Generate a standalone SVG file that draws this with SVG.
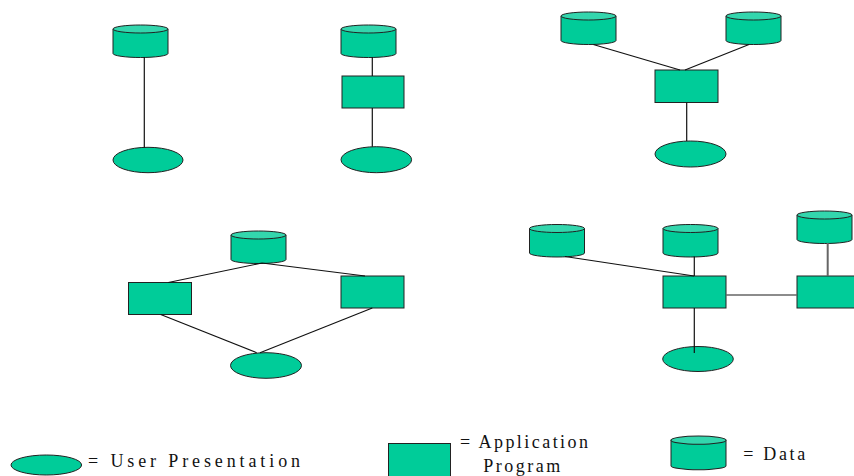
<svg xmlns="http://www.w3.org/2000/svg" xmlns:xlink="http://www.w3.org/1999/xlink" width="854" height="476" viewBox="0 0 854 476">
<style>
.f{fill:#00CC99;stroke:#222;stroke-width:1}
.top{fill:#33D6AD;stroke:#222;stroke-width:1}
.c{stroke:#111;stroke-width:1.2;fill:none}
.g{stroke:#666;stroke-width:2;fill:none}
text{font-family:"Liberation Serif","Times New Roman",serif;font-size:18px;fill:#111}
</style>
<defs>
<g id="cyl">
<path class="f" d="M0,4 V28.5 A27.5,4 0 0 0 55,28.5 V4 Z"/>
<ellipse class="top" cx="27.5" cy="4" rx="27.5" ry="4"/>
</g>
</defs>
<rect width="854" height="476" fill="#fff"/>

<!-- Diagram 1 -->
<g id="d1-data"><use xlink:href="#cyl" x="113" y="25"/></g>
<g id="d1-user"><ellipse class="f" cx="148" cy="160" rx="35" ry="12.7"/></g>

<!-- Diagram 2 -->
<g id="d2-data"><use xlink:href="#cyl" x="341" y="25"/></g>
<g id="d2-app"><rect class="f" x="342" y="76" width="62" height="32"/></g>
<g id="d2-user"><ellipse class="f" cx="376.3" cy="159.7" rx="35.3" ry="13"/></g>

<!-- Diagram 3 -->
<g id="d3-data1"><use xlink:href="#cyl" x="561" y="12"/></g>
<g id="d3-data2"><use xlink:href="#cyl" x="726" y="12"/></g>
<g id="d3-app"><rect class="f" x="655" y="70" width="63" height="32.5"/></g>
<g id="d3-user"><ellipse class="f" cx="690.5" cy="154" rx="35.5" ry="13"/></g>

<!-- Diagram 4 -->
<g id="d4-data"><use xlink:href="#cyl" x="231" y="231"/></g>
<g id="d4-app1"><rect class="f" x="128.5" y="282.5" width="63" height="32"/></g>
<g id="d4-app2"><rect class="f" x="341" y="276" width="63" height="32"/></g>
<g id="d4-user"><ellipse class="f" cx="266" cy="365.5" rx="35.5" ry="12.8"/></g>

<!-- Diagram 5 -->
<g id="d5-data1"><use xlink:href="#cyl" x="529.5" y="224.5"/></g>
<g id="d5-data2"><use xlink:href="#cyl" x="663" y="224.5"/></g>
<g id="d5-data3"><use xlink:href="#cyl" x="797" y="211"/></g>
<g id="d5-app1"><rect class="f" x="663" y="276" width="63" height="32"/></g>
<g id="d5-app2"><rect class="f" x="797" y="276" width="63" height="32"/></g>
<g id="d5-user"><ellipse class="f" cx="698" cy="359" rx="35.3" ry="12.5"/></g>

<!-- Connectors -->
<g id="connectors">
<line class="c" x1="144.3" y1="57" x2="144.3" y2="147.5"/>
<line class="c" x1="372.3" y1="57" x2="372.3" y2="76"/>
<line class="c" x1="372.3" y1="108" x2="372.3" y2="146.7"/>
<line class="c" x1="593.3" y1="44.5" x2="680" y2="70"/>
<line class="c" x1="749" y1="44.5" x2="685" y2="70"/>
<line class="c" x1="686.7" y1="102.5" x2="686.7" y2="141"/>
<line class="c" x1="262" y1="263" x2="168.3" y2="282.5"/>
<line class="c" x1="262" y1="263" x2="365" y2="276"/>
<line class="c" x1="160.7" y1="314.5" x2="256.7" y2="352.7"/>
<line class="c" x1="372.3" y1="308" x2="260" y2="352.7"/>
<line class="c" x1="565" y1="256.5" x2="694" y2="276"/>
<line class="c" x1="694.3" y1="256.5" x2="694.3" y2="276"/>
<line class="c" x1="694.3" y1="308" x2="694.3" y2="353"/>
<line class="g" x1="726" y1="295" x2="797" y2="295" style="stroke-width:1.5"/>
<line class="g" x1="827.7" y1="243" x2="827.7" y2="276"/>
</g>

<!-- Legend -->
<g id="legend-user">
<ellipse class="f" cx="46.3" cy="465" rx="35.3" ry="10"/>
<text x="88" y="466.7" textLength="212" lengthAdjust="spacing">= User Presentation</text>
</g>
<g id="legend-app">
<rect class="f" x="388.5" y="443.5" width="62" height="40"/>
<text x="460" y="447.5" textLength="128" lengthAdjust="spacing">= Application</text>
<text x="483.3" y="471.5" textLength="77" lengthAdjust="spacing">Program</text>
</g>
<g id="legend-data">
<g transform="translate(671,436) scale(1,1.04)"><use xlink:href="#cyl"/></g>
<text x="743.3" y="459.5" textLength="62" lengthAdjust="spacing">= Data</text>
</g>
</svg>
